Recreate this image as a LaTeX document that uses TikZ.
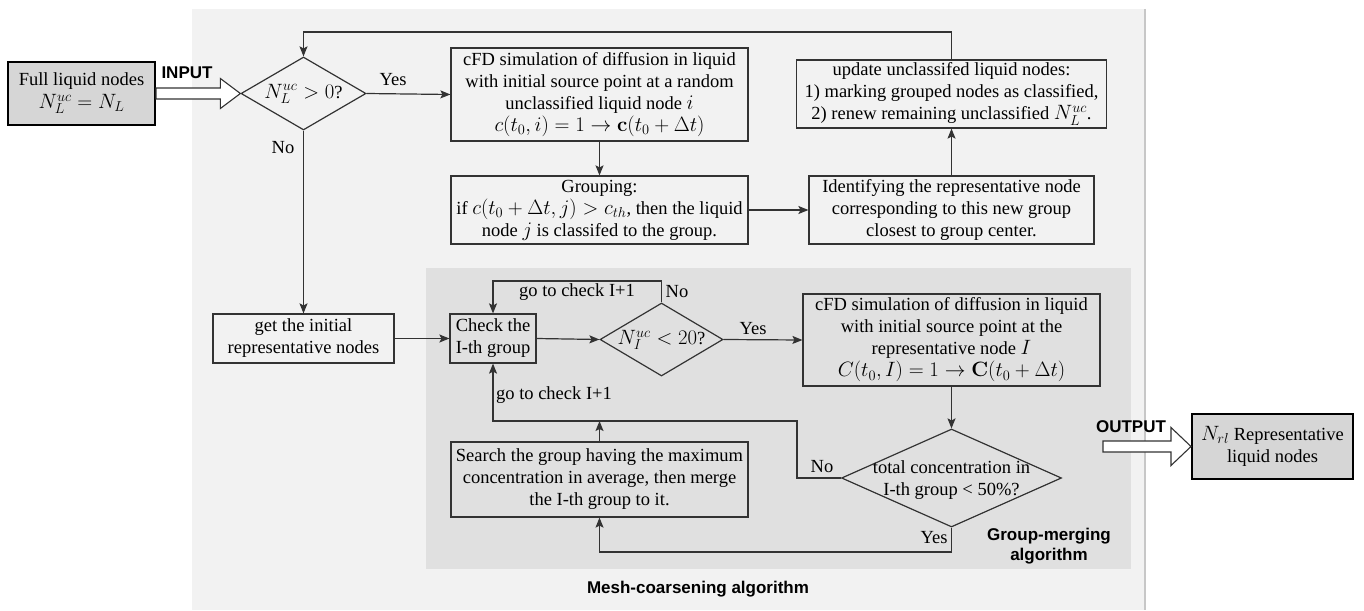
\documentclass[tikz,border=0pt]{standalone}
\usepackage[no-math]{fontspec}
\setmainfont{Liberation Serif}
\newfontfamily\lsans{Liberation Sans}
\usetikzlibrary{arrows.meta,shapes.geometric,calc}
\DeclareMathSizes{18.5}{20.5}{14.5}{11}
\definecolor{outerbg}{HTML}{F2F2F2}
\definecolor{innerbg}{HTML}{E0E0E0}
\definecolor{iobox}{HTML}{D6D6D6}
\definecolor{edge}{HTML}{333333}
\newcommand\fs{\fontsize{18.5}{22}\selectfont}
\newcommand\bs{\lsans\bfseries\fontsize{17}{20}\selectfont}
\begin{document}
\begin{tikzpicture}[x=1pt,y=-1pt,
  box/.style={draw=edge, line width=1.2pt, align=center, inner sep=0pt, font=\fs},
  iob/.style={box, draw=black, line width=2pt, fill=iobox},
  dia/.style={draw=edge, line width=1.2pt, shape=diamond, inner sep=0pt},
  txt/.style={align=center, inner sep=0pt, font=\fs},
  lbl/.style={inner sep=0pt, font=\fs},
  bl/.style={inner sep=0pt, align=center, font=\bs},
  arr/.style={draw=edge, line width=1.2pt, -{Stealth[length=10pt,width=8pt,inset=2pt]}},
  hollow/.style={draw=edge, line width=1.1pt, fill=white, line join=miter}
]
\useasboundingbox (0,0) rectangle (1364,610);
% backgrounds
\fill[outerbg] (192,9) rectangle (1145,610);
\draw[line width=2pt, black!22] (1145,9) -- (1145,610);
\fill[innerbg] (426,268) rectangle (1131,569);

% nodes
\node[iob, minimum width=147, minimum height=63] (in) at (81.5,93.5) {Full liquid nodes\\[1pt]$N_L^{uc}=N_L$};
\node[dia, minimum width=125, minimum height=73] (d1) at (303.5,93.5) {};
\node[txt] (d1t) at (303.5,94) {$N_L^{uc}>0$?};
\node[box, minimum width=297, minimum height=93] (c1) at (599.5,94.5) {cFD simulation of diffusion in liquid\\with initial source point at a random\\unclassified liquid node $i$\\$c(t_0,i)=1\rightarrow\mathbf{c}(t_0+\Delta t)$};
\node[box, minimum width=297, minimum height=68] (grp) at (599.5,210) {Grouping:\\if $c(t_0+\Delta t,j)>c_{th}$, then the liquid\\node $j$ is classifed to the group.};
\node[box, minimum width=285, minimum height=68] (idn) at (951.5,210) {Identifying the representative node\\corresponding to this new group\\closest to group center.};
\node[box, minimum width=310, minimum height=68] (upd) at (951.5,94) {update unclassifed liquid nodes:\\1) marking grouped nodes as classified,\\2) renew remaining unclassified $N_L^{uc}$.};
\node[box, minimum width=181, minimum height=49] (init) at (303.5,338.5) {get the initial\\representative nodes};
\node[box, minimum width=86, minimum height=49] (chk) at (493,338.5) {Check the\\I-th group};
\node[dia, minimum width=123, minimum height=73] (d2) at (661.5,339.5) {};
\node[txt] (d2t) at (661.5,340) {$N_I^{uc}<20$?};
\node[box, minimum width=297, minimum height=92] (c2) at (951.5,340) {cFD simulation of diffusion in liquid\\with initial source point at the\\representative node $I$\\$C(t_0,I)=1\rightarrow\mathbf{C}(t_0+\Delta t)$};
\node[dia, minimum width=220, minimum height=98] (d3) at (951.5,478) {};
\node[txt] (d3t) at (951.5,480) {total concentration in\\I-th group < 50\%?};
\node[box, minimum width=297, minimum height=75] (srch) at (599.5,479.5) {Search the group having the maximum\\concentration in average, then merge\\the I-th group to it.};
\node[iob, minimum width=161, minimum height=65] (out) at (1272.5,446.5) {$N_{rl}$ Representative\\liquid nodes};

% labels
\node[bl] (inl) at (187,73) {INPUT};
\node[bl] (outl) at (1131,427) {OUTPUT};
\node[bl] (meshl) at (698,589) {Mesh-coarsening algorithm};
\node[bl] (grpl) at (1049,546) {Group-merging\\algorithm};
\node[lbl] (y1) at (393,80) {Yes};
\node[lbl] (n1) at (283,148) {No};
\node[lbl] (g1) at (577,292) {go to check I+1};
\node[lbl] (n2) at (677,292) {No};
\node[lbl] (y2) at (753,329) {Yes};
\node[lbl] (g2) at (554,395) {go to check I+1};
\node[lbl] (n3) at (822,467) {No};
\node[lbl] (y3) at (934,538) {Yes};

% coordinates
\coordinate (top) at (303.5,32);
\coordinate (lt) at (493,281);
\coordinate (lb) at (797,421);
\coordinate (yb) at (951.5,552);
\coordinate (oa) at (1103,446.5);

% hollow arrows
\draw[hollow] ($(in.east)+(0,-5.5)$) -- ($(d1.west)+(-20,-5.5)$) -- ($(d1.west)+(-20,-15)$) -- (d1.west) -- ($(d1.west)+(-20,15)$) -- ($(d1.west)+(-20,5.5)$) -- ($(in.east)+(0,5.5)$) -- cycle;
\draw[hollow] ($(oa)+(0,-5.5)$) -- ($(out.west)+(-20,-5.5)$) -- ($(out.west)+(-20,-19)$) -- (out.west) -- ($(out.west)+(-20,19)$) -- ($(out.west)+(-20,5.5)$) -- ($(oa)+(0,5.5)$) -- cycle;

% connectors
\draw[arr] (d1.east) -- (c1.west);
\draw[arr] (c1.south) -- (grp.north);
\draw[arr] (grp.east) -- (idn.west);
\draw[arr] (idn.north) -- (upd.south);
\draw[arr] (upd.north) |- (top) -- (d1.north);
\draw[arr] (d1.south) -- (init.north);
\draw[arr] (init.east) -- (chk.west);
\draw[arr] (chk.east) -- (d2.west);
\draw[arr] (d2.north) |- (lt) -- (chk.north);
\draw[arr] (d2.east) -- (c2.west);
\draw[arr] (c2.south) -- (d3.north);
\draw[arr] (d3.west) -| (lb) -| (chk.south);
\draw[arr] (srch.north) -- (srch.north |- lb);
\draw[arr] (d3.south) -- (yb) -| (srch.south);
\end{tikzpicture}
\end{document}
